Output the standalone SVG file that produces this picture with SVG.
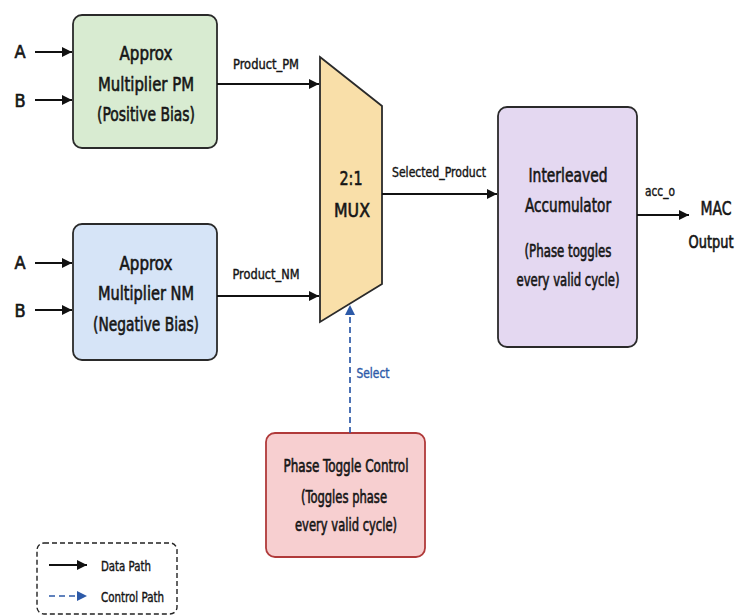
<svg xmlns="http://www.w3.org/2000/svg" width="742" height="616" viewBox="0 0 742 616">
<style>
text{font-family:"DejaVu Sans Condensed","DejaVu Sans","Liberation Sans",sans-serif;fill:#151515;stroke:#151515;stroke-width:0.6;text-anchor:middle}
.big{font-size:20px}
.mid{font-size:18px}
.lbl{font-size:14px;stroke-width:0.4}
.io{font-size:18px}
.blue{fill:#2d5aa8;stroke:#2d5aa8}
.data{stroke:#111;stroke-width:2;fill:none;marker-end:url(#ah)}
.ctrl{stroke:#2d5aa8;stroke-width:1.7;fill:none;stroke-dasharray:6,4;marker-end:url(#ahb)}
.node{stroke:#2a2a2a;stroke-width:1.8}
</style>
<defs>
<marker id="ah" viewBox="0 0 10 10" refX="10" refY="5" markerWidth="10" markerHeight="10" markerUnits="userSpaceOnUse" orient="auto"><path d="M0,0 L10,5 L0,10 z" fill="#111"/></marker>
<marker id="ahb" viewBox="0 0 10 10" refX="10" refY="5" markerWidth="10" markerHeight="10" markerUnits="userSpaceOnUse" orient="auto"><path d="M0,0 L10,5 L0,10 z" fill="#2d5aa8"/></marker>
</defs>
<rect width="742" height="616" fill="#fff"/>

<g id="pm">
<rect class="node" x="73" y="15" width="144" height="133" rx="9" fill="#d8ebd1"/>
<text class="big" x="146" y="60" textLength="53" lengthAdjust="spacingAndGlyphs">Approx</text>
<text class="big" x="146" y="91" textLength="96" lengthAdjust="spacingAndGlyphs">Multiplier PM</text>
<text class="big" x="146" y="121" textLength="98" lengthAdjust="spacingAndGlyphs">(Positive Bias)</text>
</g>

<g id="nm">
<rect class="node" x="73" y="224" width="144" height="136" rx="9" fill="#d6e4f7" stroke="#3d5f94"/>
<text class="big" x="146" y="270" textLength="53" lengthAdjust="spacingAndGlyphs">Approx</text>
<text class="big" x="146" y="300" textLength="96" lengthAdjust="spacingAndGlyphs">Multiplier NM</text>
<text class="big" x="146" y="331" textLength="106" lengthAdjust="spacingAndGlyphs">(Negative Bias)</text>
</g>

<g id="mux">
<path class="node" d="M320,57 L382,106 L382,284 L320,322 Z" fill="#f9dfa9"/>
<text class="big" x="351" y="185" textLength="23" lengthAdjust="spacingAndGlyphs">2:1</text>
<text class="big" x="352" y="217" textLength="36" lengthAdjust="spacingAndGlyphs">MUX</text>
</g>

<g id="acc">
<rect class="node" x="498" y="107" width="139" height="240" rx="9" fill="#e4d8f1"/>
<text class="big" x="568" y="182" textLength="79" lengthAdjust="spacingAndGlyphs">Interleaved</text>
<text class="big" x="568" y="212" textLength="86" lengthAdjust="spacingAndGlyphs">Accumulator</text>
<text class="mid" x="568" y="257" textLength="87" lengthAdjust="spacingAndGlyphs">(Phase toggles</text>
<text class="mid" x="568" y="286" textLength="103" lengthAdjust="spacingAndGlyphs">every valid cycle)</text>
</g>

<g id="ptc">
<rect x="266" y="433" width="159" height="124" rx="9" fill="#f7cfd0" stroke="#b03a3a" stroke-width="1.8"/>
<text class="mid" x="346" y="472" textLength="125" lengthAdjust="spacingAndGlyphs">Phase Toggle Control</text>
<text class="mid" x="344" y="503" textLength="86" lengthAdjust="spacingAndGlyphs">(Toggles phase</text>
<text class="mid" x="346" y="531" textLength="102" lengthAdjust="spacingAndGlyphs">every valid cycle)</text>
</g>

<g id="inputs">
<text class="io" x="20" y="58">A</text>
<text class="io" x="20" y="107">B</text>
<text class="io" x="20" y="269">A</text>
<text class="io" x="20" y="317">B</text>
</g>

<g id="output">
<text class="big" x="716" y="215" textLength="31" lengthAdjust="spacingAndGlyphs">MAC</text>
<text x="711" y="248" textLength="45" lengthAdjust="spacingAndGlyphs" style="font-size:17px">Output</text>
</g>

<g id="connectors">
<line class="data" x1="35" y1="52" x2="72" y2="52"/>
<line class="data" x1="35" y1="100" x2="72" y2="100"/>
<line class="data" x1="35" y1="263" x2="72" y2="263"/>
<line class="data" x1="35" y1="310" x2="72" y2="310"/>
<line class="data" x1="217" y1="84" x2="319" y2="84"/>
<text class="lbl" x="266" y="69" textLength="66" lengthAdjust="spacingAndGlyphs">Product_PM</text>
<line class="data" x1="217" y1="296" x2="319" y2="296"/>
<text class="lbl" x="266" y="279" textLength="67" lengthAdjust="spacingAndGlyphs">Product_NM</text>
<line class="data" x1="382" y1="194" x2="497" y2="194"/>
<text class="lbl" x="439" y="177" textLength="94" lengthAdjust="spacingAndGlyphs">Selected_Product</text>
<line class="data" x1="637" y1="215" x2="689" y2="215"/>
<text class="lbl" x="660" y="196" textLength="30" lengthAdjust="spacingAndGlyphs">acc_o</text>
<line class="ctrl" x1="350" y1="433" x2="350" y2="305"/>
<text class="lbl blue" x="373" y="378" textLength="33" lengthAdjust="spacingAndGlyphs">Select</text>
</g>

<g id="legend">
<rect x="37" y="543" width="140" height="71" rx="7" fill="none" stroke="#222" stroke-width="1.4" stroke-dasharray="5,3"/>
<line class="data" x1="49" y1="565" x2="87" y2="565"/>
<text class="lbl" x="101" y="571" textLength="50" lengthAdjust="spacingAndGlyphs" style="text-anchor:start">Data Path</text>
<line class="ctrl" x1="49" y1="596" x2="87" y2="596"/>
<text class="lbl" x="101" y="602" textLength="63" lengthAdjust="spacingAndGlyphs" style="text-anchor:start">Control Path</text>
</g>
</svg>
